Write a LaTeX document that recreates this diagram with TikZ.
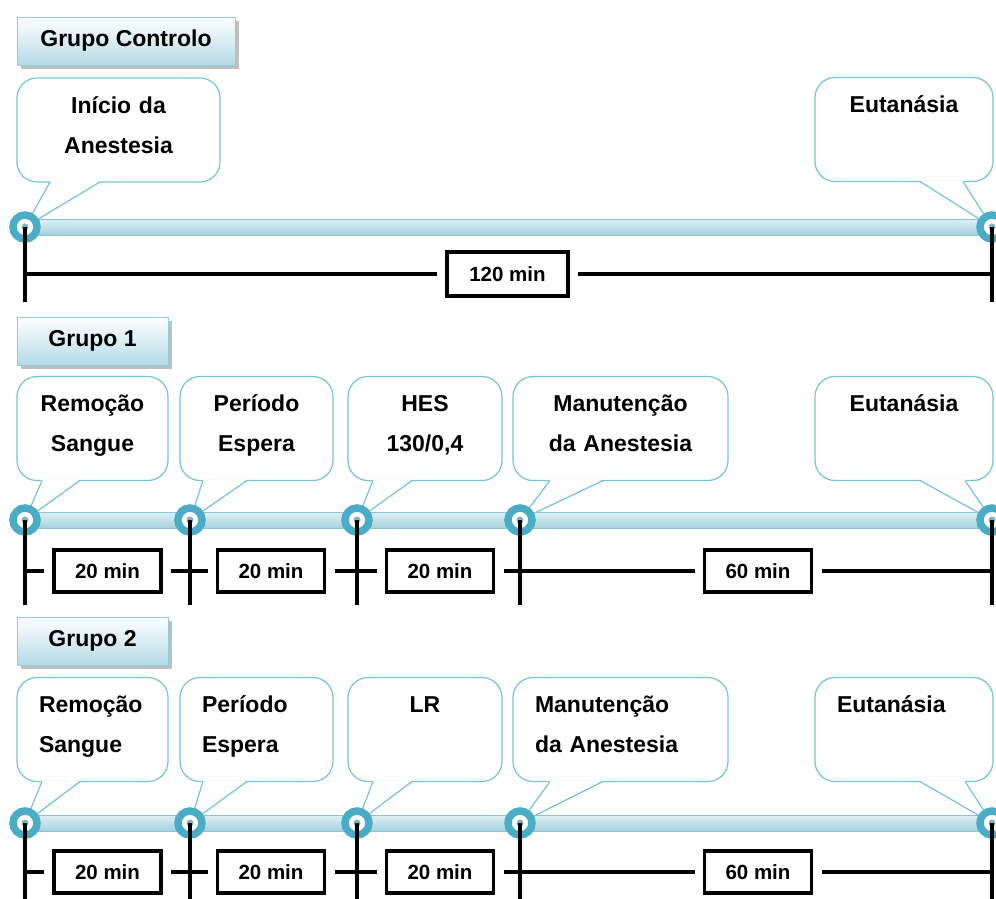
\documentclass[tikz,border=0pt]{standalone}
\usepackage{fontspec}
\setmainfont{Liberation Sans}
\usetikzlibrary{shadows}

\definecolor{ringblue}{HTML}{4BACC6}
\definecolor{ringdot}{HTML}{7FB3C2}
\definecolor{bubbleedge}{HTML}{78C3D3}
\definecolor{bartop}{HTML}{DDF0F5}
\definecolor{barbot}{HTML}{A6D2DE}
\definecolor{baredge}{HTML}{8FC4D1}
\definecolor{tagbot}{HTML}{B4DBE6}
\definecolor{tagedge}{HTML}{92CBD9}

\tikzset{every picture/.style = {x=1pt, y=-1pt}}
\tikzset{grp/.style = {draw=tagedge, top color=white, bottom color=tagbot, minimum height=48, inner sep=0,
  font=\fontsize{23}{28}\selectfont\bfseries,
  drop shadow={shadow xshift=4pt, shadow yshift=-4pt, fill=black!25, opacity=1}}}
\tikzset{bubble/.style = {draw=bubbleedge, line width=1.2pt, fill=white, rounded corners=20pt, outer sep=0,
  inner xsep=22pt, inner ysep=0, minimum height=104, font=\fontsize{23}{40}\selectfont\bfseries,
  execute at begin node=\vphantom{Ã}, execute at end node=\rule[-14pt]{0pt}{1pt}}}
\tikzset{bubbleline/.style = {draw=bubbleedge, line width=1.2pt, line join=round}}
\tikzset{bar/.style = {top color=bartop, bottom color=barbot, draw=baredge, line width=0.6pt}}
\tikzset{marker/.style = {circle, fill=white, draw=ringblue, line width=7.5pt, minimum size=24, inner sep=0,
  path picture={\fill[ringdot] (path picture bounding box.center) circle (3.5pt);}}}
\tikzset{tick/.style = {line width=3.5pt}}
\tikzset{span/.style = {line width=3.5pt}}
\tikzset{dur/.style = {draw, line width=3.5pt, fill=white, minimum width=107, minimum height=42, inner sep=0,
  outer sep=10pt, font=\fontsize{20.5}{24}\selectfont\bfseries}}

% tail of a callout: bubble, base start, base end (from its left side), tip
\newcommand{\tail}[4]{%
  \fill[white] ([xshift=#2pt, yshift=1pt]#1.south west) -- (#4) -- ([xshift=#3pt, yshift=1pt]#1.south west) -- cycle;
  \draw[bubbleline] ([xshift=#2pt]#1.south west) -- (#4) -- ([xshift=#3pt]#1.south west);}

\begin{document}
\begin{tikzpicture}
  \useasboundingbox (0,0) rectangle (996,898);
  \clip (0,0) rectangle (996,898);

  % Grupo Controlo
  \node[grp, minimum width=218] (g0) at (126,41) {Grupo Controlo};
  \coordinate (g0-m1) at (25,227);
  \coordinate (g0-m2) at (992,227);
  \node[bubble, text width=159, align=center] (g0-b1) at (118.5,130) {Início da\\Anestesia};
  \node[bubble, text width=134, align=center] (g0-b2) at (904,129.5) {Eutanásia\\~};
  \tail{g0-b1}{33}{83}{g0-m1}
  \tail{g0-b2}{105}{148}{g0-m2}
  \shade[bar] ([yshift=8pt]g0-m1) rectangle ([yshift=-8pt]g0-m2);

  % Grupo 1
  \node[grp, minimum width=151] (g1) at (92.5,341) {Grupo 1};
  \coordinate (g1-m1) at (25,520);
  \coordinate (g1-m2) at (190,520);
  \coordinate (g1-m3) at (357,520);
  \coordinate (g1-m4) at (520,520);
  \coordinate (g1-m5) at (992,520);
  \node[bubble, text width=107, align=center] (g1-b1) at (92.5,428.5) {Remoção\\Sangue};
  \node[bubble, text width=109, align=center] (g1-b2) at (256.5,428.5) {Período\\Espera};
  \node[bubble, text width=110, align=center] (g1-b3) at (425,428.5) {HES\\130/0,4};
  \node[bubble, text width=171, align=center] (g1-b4) at (620.5,428.5) {Manutenção\\da Anestesia};
  \node[bubble, text width=134, align=center] (g1-b5) at (904,428.5) {Eutanásia\\~};
  \tail{g1-b1}{25}{63}{g1-m1}
  \tail{g1-b2}{23}{67}{g1-m2}
  \tail{g1-b3}{25}{64}{g1-m3}
  \tail{g1-b4}{37}{90}{g1-m4}
  \tail{g1-b5}{105}{150}{g1-m5}
  \shade[bar] ([yshift=8pt]g1-m1) rectangle ([yshift=-8pt]g1-m5);

  % Grupo 2
  \node[grp, minimum width=151] (g2) at (92.5,641) {Grupo 2};
  \coordinate (g2-m1) at (25,823);
  \coordinate (g2-m2) at (190,823);
  \coordinate (g2-m3) at (357,823);
  \coordinate (g2-m4) at (520,823);
  \coordinate (g2-m5) at (992,823);
  \node[bubble, text width=107, align=left] (g2-b1) at (92.5,729.5) {Remoção\\Sangue};
  \node[bubble, text width=109, align=left] (g2-b2) at (256.5,729.5) {Período\\Espera};
  \node[bubble, text width=110, align=center] (g2-b3) at (425,729.5) {LR\\~};
  \node[bubble, text width=171, align=left] (g2-b4) at (620.5,729.5) {Manutenção\\da Anestesia};
  \node[bubble, text width=134, align=left] (g2-b5) at (904,729.5) {Eutanásia\\~};
  \tail{g2-b1}{25}{63}{g2-m1}
  \tail{g2-b2}{23}{67}{g2-m2}
  \tail{g2-b3}{25}{64}{g2-m3}
  \tail{g2-b4}{37}{90}{g2-m4}
  \tail{g2-b5}{105}{150}{g2-m5}
  \shade[bar] ([yshift=8pt]g2-m1) rectangle ([yshift=-8pt]g2-m5);

  % markers and ticks
  \foreach \m in {g0-m1,g0-m2,g1-m1,g1-m2,g1-m3,g1-m4,g1-m5,g2-m1,g2-m2,g2-m3,g2-m4,g2-m5}
    \node[marker] (\m-ring) at (\m) {};
  \foreach \m in {g0-m1,g0-m2}
    \draw[tick] (\m) -- ++(0,75);
  \foreach \m in {g1-m1,g1-m2,g1-m3,g1-m4,g1-m5}
    \draw[tick] (\m) -- ++(0,85);
  \foreach \m in {g2-m1,g2-m2,g2-m3,g2-m4,g2-m5}
    \draw[tick] (\m) -- ++(0,80);

  % durations
  \node[dur, minimum width=121, minimum height=44] (g0-t1) at (507.5,274) {120 min};
  \draw[span] (g0-m1 |- g0-t1) -- (g0-t1) (g0-t1) -- (g0-m2 |- g0-t1);

  \node[dur] (g1-t1) at (107.5,571) {20 min};
  \node[dur] (g1-t2) at (271,571) {20 min};
  \node[dur] (g1-t3) at (440,571) {20 min};
  \node[dur] (g1-t4) at (758,571) {60 min};
  \draw[span] (g1-m1 |- g1-t1) -- (g1-t1) (g1-t1) -- (g1-t2) (g1-t2) -- (g1-t3)
    (g1-t3) -- (g1-t4) (g1-t4) -- (g1-m5 |- g1-t4);

  \node[dur] (g2-t1) at (107.5,872) {20 min};
  \node[dur] (g2-t2) at (271,872) {20 min};
  \node[dur] (g2-t3) at (440,872) {20 min};
  \node[dur] (g2-t4) at (758,872) {60 min};
  \draw[span] (g2-m1 |- g2-t1) -- (g2-t1) (g2-t1) -- (g2-t2) (g2-t2) -- (g2-t3)
    (g2-t3) -- (g2-t4) (g2-t4) -- (g2-m5 |- g2-t4);
\end{tikzpicture}
\end{document}
